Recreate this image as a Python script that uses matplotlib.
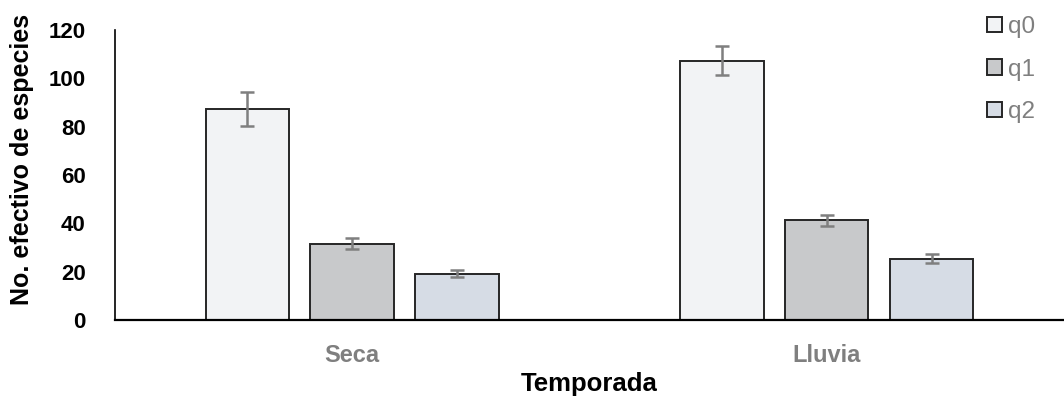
import numpy as np
import matplotlib.pyplot as plt
from matplotlib.patches import Patch

# Datos: número efectivo de especies por temporada
temporadas = ['Seca', 'Lluvia']
ordenes = ['q0', 'q1', 'q2']
valores = {
    'q0': [87.2, 107.3],
    'q1': [31.6, 41.2],
    'q2': [19.2, 25.4],
}
errores = {
    'q0': [7.0, 6.0],
    'q1': [2.3, 2.3],
    'q2': [1.5, 1.9],
}
colores = {'q0': '#F2F3F5', 'q1': '#C8C9CB', 'q2': '#D6DCE5'}

plt.rcParams['font.family'] = ['Liberation Sans', 'DejaVu Sans']

fig = plt.figure(figsize=(10.64, 3.98), dpi=100)
ax = fig.add_axes([0.108, 0.196, 0.892, 0.7286])

x = np.arange(len(temporadas))
ancho = 0.176
paso = 0.221
for i, q in enumerate(ordenes):
    ax.bar(x + (i - 1) * paso, valores[q], width=ancho, color=colores[q],
           edgecolor='#262626', linewidth=1.4, zorder=2)
    ax.errorbar(x + (i - 1) * paso, valores[q], yerr=errores[q], fmt='none',
                ecolor='#7F7F7F', elinewidth=1.8, capsize=5, capthick=1.8, zorder=3)

ax.set_xlim(-0.5, 1.5)
ax.set_ylim(0, 120)
ax.set_yticks(range(0, 121, 20))
ax.set_xticks(x)
ax.set_xticklabels(temporadas, fontsize=17, fontweight='bold', color='#7F7F7F')
ax.tick_params(axis='x', length=0, pad=17)
ax.tick_params(axis='y', length=0, labelsize=16, pad=21)
for lab in ax.get_yticklabels():
    lab.set_fontweight('bold')

for s in ['top', 'right']:
    ax.spines[s].set_visible(False)
ax.spines['left'].set_linewidth(1.2)
ax.spines['bottom'].set_linewidth(1.6)

ax.set_ylabel('No. efectivo de especies', fontsize=18, fontweight='bold')
ax.yaxis.set_label_coords(-0.085, 0.555)
ax.set_xlabel('Temporada', fontsize=18.5, fontweight='bold', labelpad=4)

handles = [Patch(facecolor=colores[q], edgecolor='#262626', linewidth=1.4) for q in ordenes]
leg = fig.legend(handles, ordenes, loc='upper left', bbox_to_anchor=(0.907, 1.015),
                 frameon=False, fontsize=17.5, handlelength=0.6, handleheight=0.6,
                 handletextpad=0.25, labelspacing=0.85)
for t in leg.get_texts():
    t.set_color('#7F7F7F')

fig.savefig('out.png', dpi=100)
